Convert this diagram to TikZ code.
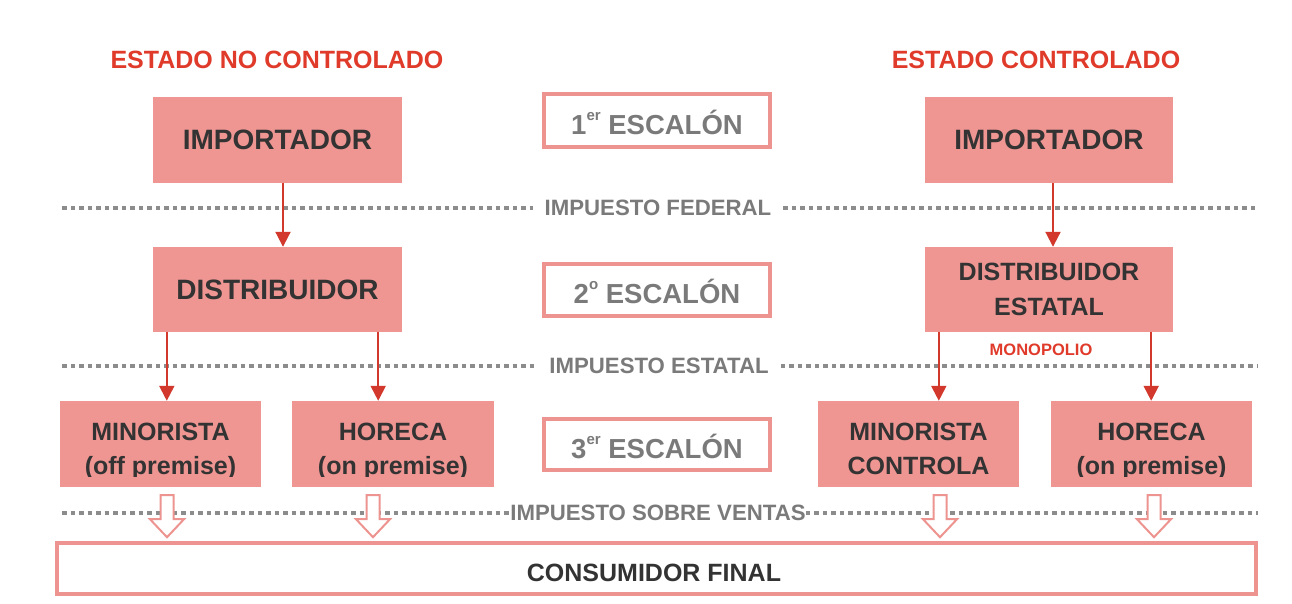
\documentclass[tikz,border=0pt]{standalone}
\usepackage{fontspec}
\setmainfont{Liberation Sans}
\usetikzlibrary{arrows.meta,calc}
\definecolor{salmon}{HTML}{EF9592}
\definecolor{pinkb}{HTML}{EE9490}
\definecolor{redarr}{HTML}{D2392C}
\definecolor{redtitle}{HTML}{E03A2A}
\definecolor{graytxt}{HTML}{7A7A7A}
\definecolor{graydot}{HTML}{8C8C8C}
\definecolor{darktxt}{HTML}{333333}
\newcommand\ph{\vphantom{(}}
\newcommand\supr[1]{\raisebox{0.5em}{\fontsize{15}{15}\selectfont #1}}
\tikzset{
  fbox/.style={fill=salmon, draw=none, inner sep=0pt, text=darktxt,
    font=\fontsize{28}{28}\selectfont\bfseries, align=center},
  fbox2/.style={fill=salmon, draw=none, inner sep=0pt, text=darktxt,
    font=\fontsize{25}{35}\selectfont\bfseries, align=center},
  ebox/.style={draw=pinkb, line width=4pt, fill=white, inner sep=0pt,
    text=graytxt, font=\fontsize{27.5}{27}\selectfont\bfseries,
    text height=27.3pt, text depth=0pt},
  twoline/.style={inner sep=0pt, text=darktxt,
    font=\fontsize{25}{34}\selectfont\bfseries, align=center},
  title/.style={text=redtitle, font=\fontsize{25}{25}\selectfont\bfseries, inner sep=0pt},
  tax/.style={text=graytxt, font=\fontsize{22.2}{22}\selectfont\bfseries, inner ysep=0pt, inner xsep=12pt},
  dots/.style={draw=graydot, line width=3.5pt, dash pattern=on 4.5pt off 4pt},
  arr/.style={draw=redarr, line width=2pt, -{Triangle[length=15pt,width=15pt]}},
  hollowstyle/.style={draw=pinkb, line width=2pt, fill=white, line join=miter},
  hollowarr/.pic={\draw[hollowstyle] (-6.5,0) -- (-6.5,24) -- (-17,24) -- (0,42) -- (17,24) -- (6.5,24) -- (6.5,0) -- cycle;}
}
\begin{document}
\begin{tikzpicture}[x=1pt,y=-1pt]
\useasboundingbox (0,0) rectangle (1292,603);
\fill[white] (0,0) rectangle (1292,603);

% titles
\node[title] (tL) at (277,60) {ESTADO NO CONTROLADO};
\node[title] (tR) at (1036,60) {ESTADO CONTROLADO};

% tax lines
\node[tax] (fed) at (658,208) {IMPUESTO FEDERAL};
\node[tax] (est) at (659,366) {IMPUESTO ESTATAL};
\node[tax, inner xsep=0pt] (ven) at (658,513) {IMPUESTO SOBRE VENTAS};
\coordinate (fedA) at (62,208);  \coordinate (fedB) at (1258,208);
\coordinate (estA) at (62,366);  \coordinate (estB) at (1258,366);
\coordinate (venA) at (62,513);  \coordinate (venB) at (1258,513);
\draw[dots] (fedA) -- (fed.west); \draw[dots] (fed.east) -- (fedB);
\draw[dots] (estA) -- (est.west); \draw[dots] (est.east) -- (estB);
\draw[dots] (venA) -- (ven.west); \draw[dots] (ven.east) -- (venB);

% level 1
\node[fbox, minimum width=249pt, minimum height=86pt] (impL) at (277.5,140) {IMPORTADOR};
\node[fbox, minimum width=248pt, minimum height=86pt] (impR) at (1049,140) {IMPORTADOR};
\node[ebox, minimum width=226pt, minimum height=53pt] (esc1) at (657,120.5) {1\supr{er} ESCALÓN};

% level 2
\node[fbox, minimum width=249pt, minimum height=85pt] (distL) at (277.5,289.5) {DISTRIBUIDOR};
\node[fbox2, minimum width=248pt, minimum height=85pt] (distR) at (1049,289.5) {DISTRIBUIDOR\\ESTATAL};
\node[ebox, minimum width=226pt, minimum height=52pt] (esc2) at (657,290) {2\supr{o} ESCALÓN};
\node[text=redtitle, font=\fontsize{16.5}{16.5}\selectfont\bfseries, inner sep=0pt] (mono) at (1041,350) {MONOPOLIO};

% level 3
\node[fill=salmon, minimum width=201pt, minimum height=86pt, inner sep=0pt] (minL) at (160.5,444) {};
\node[fill=salmon, minimum width=202pt, minimum height=86pt, inner sep=0pt] (horL) at (393,444) {};
\node[fill=salmon, minimum width=201pt, minimum height=86pt, inner sep=0pt] (minR) at (918.5,444) {};
\node[fill=salmon, minimum width=201pt, minimum height=86pt, inner sep=0pt] (horR) at (1151.5,444) {};
\begin{scope}
  \clip (minL.north west) rectangle ($(minL.south east)+(0,-11)$);
  \node[twoline] (minLt) at (160.5,451.5) {\ph MINORISTA\\\ph(off premise)};
\end{scope}
\begin{scope}
  \clip (horL.north west) rectangle ($(horL.south east)+(0,-11)$);
  \node[twoline] (horLt) at (393,451.5) {\ph HORECA\\\ph(on premise)};
\end{scope}
\begin{scope}
  \clip (minR.north west) rectangle ($(minR.south east)+(0,-11)$);
  \node[twoline] (minRt) at (918.5,451.5) {\ph MINORISTA\\\ph CONTROLA};
\end{scope}
\begin{scope}
  \clip (horR.north west) rectangle ($(horR.south east)+(0,-11)$);
  \node[twoline] (horRt) at (1151.5,451.5) {\ph HORECA\\\ph(on premise)};
\end{scope}
\node[ebox, minimum width=226pt, minimum height=51pt] (esc3) at (657,444.5) {3\supr{er} ESCALÓN};

% red arrows
\draw[arr] ([xshift=5.5pt]impL.south) -- ([xshift=5.5pt]distL.north);
\draw[arr] ([xshift=4pt]impR.south) -- ([xshift=4pt]distR.north);
\draw[arr] ([xshift=14pt]distL.south west) -- ([xshift=14pt]distL.south west |- minL.north);
\draw[arr] ([xshift=-24pt]distL.south east) -- ([xshift=-24pt]distL.south east |- horL.north);
\draw[arr] ([xshift=14pt]distR.south west) -- ([xshift=14pt]distR.south west |- minR.north);
\draw[arr] ([xshift=-22pt]distR.south east) -- ([xshift=-22pt]distR.south east |- horR.north);

% consumer
\node[draw=pinkb, line width=4pt, fill=white, minimum width=1199pt, minimum height=51pt, inner sep=0pt] (cons) at (656.5,568.5) {};
\node[text=darktxt, font=\fontsize{25}{25}\selectfont\bfseries, inner sep=0pt] (consT) at (654,573) {CONSUMIDOR FINAL};

% hollow arrows
\pic at ([xshift=6.5pt,yshift=-8pt]minL.south) {hollowarr};
\pic at ([xshift=-20pt,yshift=-8pt]horL.south) {hollowarr};
\pic at ([xshift=21.5pt,yshift=-8pt]minR.south) {hollowarr};
\pic at ([xshift=2.5pt,yshift=-8pt]horR.south) {hollowarr};
\end{tikzpicture}
\end{document}
